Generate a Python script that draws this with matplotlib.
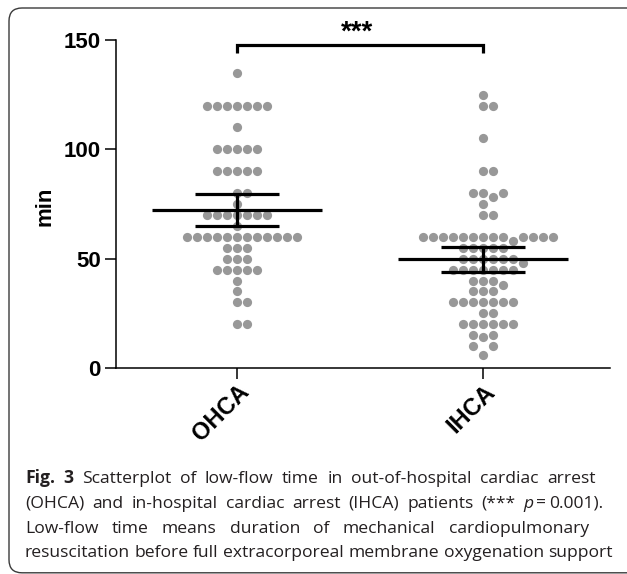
import matplotlib
matplotlib.use("Agg")
import matplotlib.pyplot as plt
import numpy as np
from matplotlib.path import Path
from matplotlib.patches import PathPatch

# values (minutes of low-flow time)
groups = ["OHCA", "IHCA"]
ohca_min = [20, 20, 30, 30, 35, 40, 45, 45, 45, 45, 45, 50, 50, 50, 55, 55, 55,
            60, 60, 60, 60, 60, 60, 60, 60, 60, 60, 60, 60, 65,
            70, 70, 70, 70, 70, 70, 70, 75, 80, 80,
            90, 90, 90, 90, 90, 100, 100, 100, 100, 100, 110,
            120, 120, 120, 120, 120, 120, 120, 135]
ihca_min = [6, 10, 10, 14, 15, 15, 20, 20, 20, 20, 20, 20, 25, 25,
            30, 30, 30, 30, 30, 30, 30, 35, 35, 35, 38, 40, 40, 40,
            45, 45, 45, 45, 45, 45, 45, 48, 50, 50, 50, 50, 50, 50,
            55, 55, 55, 55, 55, 58,
            60, 60, 60, 60, 60, 60, 60, 60, 60, 60, 60, 60, 60,
            70, 70, 75, 78, 80, 80, 80, 90, 90, 105, 120, 120, 125]
yticks = [0, 50, 100, 150]
star_label = "***"

caption_lines = [
    [[("Fig.", "bold")], [("3", "bold")], [("Scatterplot", "normal")], [("of", "normal")],
     [("low-flow", "normal")], [("time", "normal")], [("in", "normal")],
     [("out-of-hospital", "normal")], [("cardiac", "normal")], [("arrest", "normal")]],
    [[("(OHCA)", "normal")], [("and", "normal")], [("in-hospital", "normal")],
     [("cardiac", "normal")], [("arrest", "normal")], [("(IHCA)", "normal")],
     [("patients", "normal")], [("(***", "normal")],
     [("p", "italic"), ("=", "normal"), ("0.001).", "normal")]],
    [[("Low-flow", "normal")], [("time", "normal")], [("means", "normal")],
     [("duration", "normal")], [("of", "normal")], [("mechanical", "normal")],
     [("cardiopulmonary", "normal")]],
    [[("resuscitation", "normal")], [("before", "normal")], [("full", "normal")],
     [("extracorporeal", "normal")], [("membrane", "normal")],
     [("oxygenation", "normal")], [("support", "normal")]],
]

W, H = 627, 574
STEP = 10 / 246  # horizontal spacing of dots in category units


def swarm_offsets(vals, step=STEP, gap=4.5):
    vals = np.asarray(vals, dtype=float)
    order = np.argsort(vals, kind="stable")
    cand = [0]
    for n in range(1, 30):
        cand += [n, -n]
    placed = []
    offs = np.zeros(len(vals))
    for i in order:
        v = vals[i]
        for k in cand:
            if all(not (pk == k and abs(pv - v) < gap) for pk, pv in placed):
                break
        placed.append((k, v))
        offs[i] = k * step
    return offs


plt.rcParams["font.family"] = ["Liberation Sans", "DejaVu Sans"]
fig = plt.figure(figsize=(W / 100, H / 100), dpi=100)
ax = fig.add_axes([116 / W, 1 - 368 / H, (610 - 116) / W, (368 - 40) / H])

for gi, vals in enumerate([ohca_min, ihca_min]):
    xs = gi + swarm_offsets(vals)
    ax.scatter(xs, vals, s=44, color="#989898", linewidths=0, zorder=2, clip_on=False)
    v = np.asarray(vals, dtype=float)
    m = v.mean()
    half = 2.0 * v.std(ddof=1) / np.sqrt(len(v))
    ax.hlines(m, gi - 0.345, gi + 0.345, color="black", lw=2.3, zorder=3)
    ax.hlines([m - half, m + half], gi - 0.17, gi + 0.17, color="black", lw=2.3, zorder=3)
    ax.vlines(gi, m - half, m + half, color="black", lw=2.3, zorder=3)

# significance bracket
ax.plot([0, 0, 1, 1], [144.2, 147.7, 147.7, 144.2], color="black", lw=2.3,
        clip_on=False, solid_joinstyle="miter", solid_capstyle="butt")
fig.text(357 / W, 1 - 40 / H, star_label, ha="center", va="baseline", fontsize=20,
         fontweight="bold")

ax.set_xlim(-0.492, 1.516)
ax.set_ylim(0, 150)
ax.spines["top"].set_visible(False)
ax.spines["right"].set_visible(False)
for s in ["left", "bottom"]:
    ax.spines[s].set_linewidth(1.1)
ax.set_yticks(yticks)
ax.set_yticklabels([str(t) for t in yticks], fontsize=16, fontweight="bold")
ax.set_xticks(range(len(groups)))
ax.set_xticklabels(groups, fontsize=17, fontweight="bold", rotation=45,
                   ha="right", va="top", rotation_mode="anchor")
ax.tick_params(axis="both", direction="out", length=8, width=1.1, pad=3)
ax.tick_params(axis="x", pad=1)
fig.text(45 / W, 1 - 206 / H, "min", rotation=90, ha="center", va="center",
         fontsize=16, fontweight="bold")

# panel frame: top, left and bottom edges with rounded left corners,
# open on the right where the panel runs off the image
x0, y0, y1, r, xr = 0.09, 0.012, 5.66, 0.13, 6.4
verts = [(xr, y1), (x0 + r, y1), (x0, y1), (x0, y1 - r), (x0, y0 + r),
         (x0, y0), (x0 + r, y0), (xr, y0)]
codes = [Path.MOVETO, Path.LINETO, Path.CURVE3, Path.CURVE3, Path.LINETO,
         Path.CURVE3, Path.CURVE3, Path.LINETO]
fig.patches.append(PathPatch(Path(verts, codes), transform=fig.dpi_scale_trans,
                             fill=False, edgecolor="#3a3a3a", lw=1.0))

# caption, drawn word by word so the first three lines can be justified
cap_font = {"family": ["Open Sans", "DejaVu Sans"], "size": 12.6, "color": "#231f20"}
renderer = fig.canvas.get_renderer()


def piece_width(txt, style):
    t = fig.text(0, 0, txt, fontweight="bold" if style == "bold" else "normal",
                 fontstyle="italic" if style == "italic" else "normal", **cap_font)
    w = t.get_window_extent(renderer).width
    t.remove()
    return w


space_w = piece_width("a a", "normal") - piece_width("aa", "normal")
inner_gap = 2.5
baselines = [483, 508, 533, 557]
right_edges = [596, 603, 589, None]
x_left = 25

for words, yb, xr_txt in zip(caption_lines, baselines, right_edges):
    widths = []
    for word in words:
        ws = [piece_width(p, st) for p, st in word]
        widths.append(ws)
    word_w = [sum(ws) + inner_gap * (len(ws) - 1) for ws in widths]
    if xr_txt is None:
        gap = space_w
    else:
        gap = (xr_txt - x_left - sum(word_w)) / (len(words) - 1)
    x = x_left
    for word, ws, ww in zip(words, widths, word_w):
        px = x
        for (p, st), w in zip(word, ws):
            fig.text(px / W, 1 - yb / H, p, ha="left", va="baseline",
                     fontweight="bold" if st == "bold" else "normal",
                     fontstyle="italic" if st == "italic" else "normal", **cap_font)
            px += w + inner_gap
        x += ww + gap

fig.savefig("out.png", dpi=100)
